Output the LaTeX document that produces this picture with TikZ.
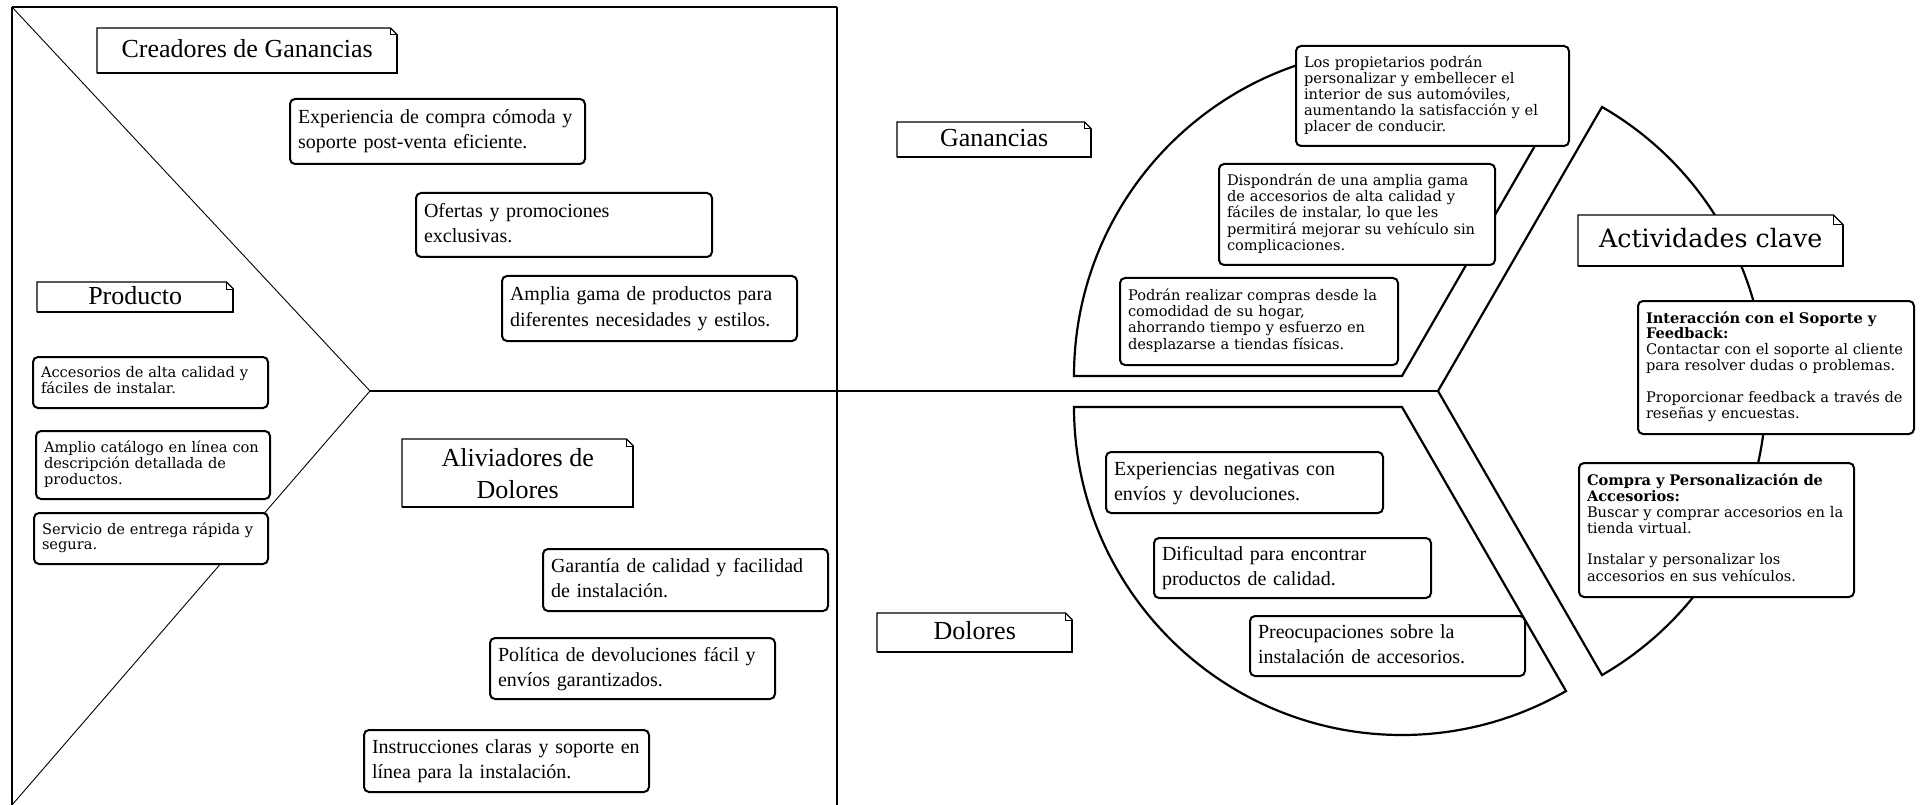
\documentclass[tikz,border=0pt]{standalone}
\usepackage{fontspec}
\setmainfont{Liberation Serif}
\newfontfamily\dejavu{DejaVu Serif}
% lines of a card, never broken
\newcommand{\cardlines}[1]{\begin{tabular}{@{}l@{}}#1\end{tabular}}

\begin{document}
\begin{tikzpicture}[x=1pt, y=1pt,
    canvasline/.style={line width=1.3pt},
    thinline/.style={line width=0.9pt},
    piece/.style={line width=2.2pt},
    note/.style={fill=white, anchor=north west, inner sep=0pt, align=center,
        font=\fontsize{26}{32}\selectfont},
    oneline/.style={text height=18.7pt, text depth=4.7pt},
    card/.style 2 args={draw, line width=2pt, rounded corners=5pt, fill=white,
        anchor=north west, inner xsep=8pt, inner ysep=0pt, text width=#1,
        minimum height=#2, align=left, font=\fontsize{20}{25}\selectfont},
    smallcard/.style 2 args={card={#1}{#2},
        font=\dejavu\fontsize{14.6}{15.8}\selectfont}]
    \useasboundingbox (0,0) rectangle (1923,-805);

    % 1. Marco de la propuesta de valor
    \draw[canvasline] (12,-7) -- (837,-7);
    \draw[canvasline] (12,-7) -- (12,-812);
    \draw[canvasline] (837,-7) -- (837,-812);
    \coordinate (vtx) at (370,-391);
    \draw[thinline] (12,-7) -- (vtx) -- (12,-805);

    % 2. Eje horizontal hasta el perfil del cliente
    \coordinate (ac) at (1438,-391);
    \draw[line width=1.2pt] (vtx) -- (837,-391);
    \draw[line width=2pt] (837,-391) -- (ac);

    % 3. Perfil del cliente: tres sectores del circulo
    \coordinate (gc) at (1402,-376);
    \coordinate (dc) at (1402,-407);
    \draw[piece] (gc) -- ++(180:328) arc[start angle=180, end angle=60, radius=328] -- cycle;
    \draw[piece] (dc) -- ++(180:328) arc[start angle=180, end angle=300, radius=328] -- cycle;
    \draw[piece] (ac) -- ++(60:328) arc[start angle=60, end angle=-60, radius=328] -- cycle;

    % 4. Titulos
    \node[note, oneline, minimum width=300, minimum height=45] (lcre) at (97,-28) {Creadores de Ganancias};
    \node[note, oneline, minimum width=196, minimum height=30] (lpro) at (37,-282) {Producto};
    \node[note, oneline, minimum width=194, minimum height=35] (lgan) at (897,-122) {Ganancias};
    \node[note, minimum width=231, minimum height=68] (lali) at (402,-439) {Aliviadores de\\Dolores};
    \node[note, oneline, minimum width=195, minimum height=39] (ldol) at (877,-613) {Dolores};
    \node[note, minimum width=265, minimum height=51, text height=18.2pt, text depth=4.6pt,
        font=\dejavu\fontsize{25.3}{30}\selectfont] (lact) at (1578,-215) {Actividades clave};
    \foreach \n/\fd in {lcre/7, lpro/7, lgan/7, lali/7, ldol/7, lact/10} {
        \draw[line width=1.2pt] ([yshift=-\fd pt]\n.north east) -- ([xshift=-\fd pt]\n.north east)
            -- (\n.north west) -- (\n.south west);
        \draw[line width=2pt] ([yshift=-\fd pt]\n.north east) -- (\n.south east) -- (\n.south west);
        \draw[line width=1pt] ([xshift=-\fd pt]\n.north east) |- ([yshift=-\fd pt]\n.north east);
    }

    % 5. Creadores de ganancias
    \node[card={279pt}{65}] (cg1) at (289,-98) {\cardlines{Experiencia de compra cómoda y\\soporte post-venta eficiente.}};
    \node[card={280pt}{64}] (cg2) at (415,-192) {\cardlines{Ofertas y promociones\\exclusivas.}};
    \node[card={279pt}{65}] (cg3) at (501,-275) {\cardlines{Amplia gama de productos para\\diferentes necesidades y estilos.}};

    % 6. Producto
    \node[smallcard={219pt}{51}] (pr1) at (32,-356) {\cardlines{Accesorios de alta calidad y\\fáciles de instalar.}};
    \node[smallcard={218pt}{68}] (pr2) at (35,-430) {\cardlines{Amplio catálogo en línea con\\descripción detallada de\\productos.}};
    \node[smallcard={218pt}{51}] (pr3) at (33,-512) {\cardlines{Servicio de entrega rápida y\\segura.}};

    % 7. Aliviadores de dolores
    \node[card={269pt}{62}] (ar1) at (542,-548) {\cardlines{Garantía de calidad y facilidad\\de instalación.}};
    \node[card={269pt}{61}] (ar2) at (489,-637) {\cardlines{Política de devoluciones fácil y\\envíos garantizados.}};
    \node[card={269pt}{62}] (ar3) at (363,-729) {\cardlines{Instrucciones claras y soporte en\\línea para la instalación.}};

    % 8. Ganancias del cliente
    \node[smallcard={257pt}{100}] (gn1) at (1295,-45) {\cardlines{Los propietarios podrán\\personalizar y embellecer el\\interior de sus automóviles,\\aumentando la satisfacción y el\\placer de conducir.}};
    \node[smallcard={260pt}{101}] (gn2) at (1218,-163) {\cardlines{Dispondrán de una amplia gama\\de accesorios de alta calidad y\\fáciles de instalar, lo que les\\permitirá mejorar su vehículo sin\\complicaciones.}};
    \node[smallcard={262pt}{87}] (gn3) at (1119,-277) {\cardlines{Podrán realizar compras desde la\\comodidad de su hogar,\\ahorrando tiempo y esfuerzo en\\desplazarse a tiendas físicas.}};

    % 9. Dolores del cliente
    \node[card={261pt}{61}] (dl1) at (1105,-451) {\cardlines{Experiencias negativas con\\envíos y devoluciones.}};
    \node[card={261pt}{60}] (dl2) at (1153,-537) {\cardlines{Dificultad para encontrar\\productos de calidad.}};
    \node[card={259pt}{60}] (dl3) at (1249,-615) {\cardlines{Preocupaciones sobre la\\instalación de accesorios.}};

    % 10. Actividades clave
    \node[smallcard={260pt}{133}] (ac1) at (1637,-300) {\cardlines{\textbf{Interacción con el Soporte y}\\\textbf{Feedback:}\\Contactar con el soporte al cliente\\para resolver dudas o problemas.\\ \\Proporcionar feedback a través de\\reseñas y encuestas.}};
    \node[smallcard={259pt}{134}] (ac2) at (1578,-462) {\cardlines{\textbf{Compra y Personalización de}\\\textbf{Accesorios:}\\Buscar y comprar accesorios en la\\tienda virtual.\\ \\Instalar y personalizar los\\accesorios en sus vehículos.}};
\end{tikzpicture}
\end{document}
